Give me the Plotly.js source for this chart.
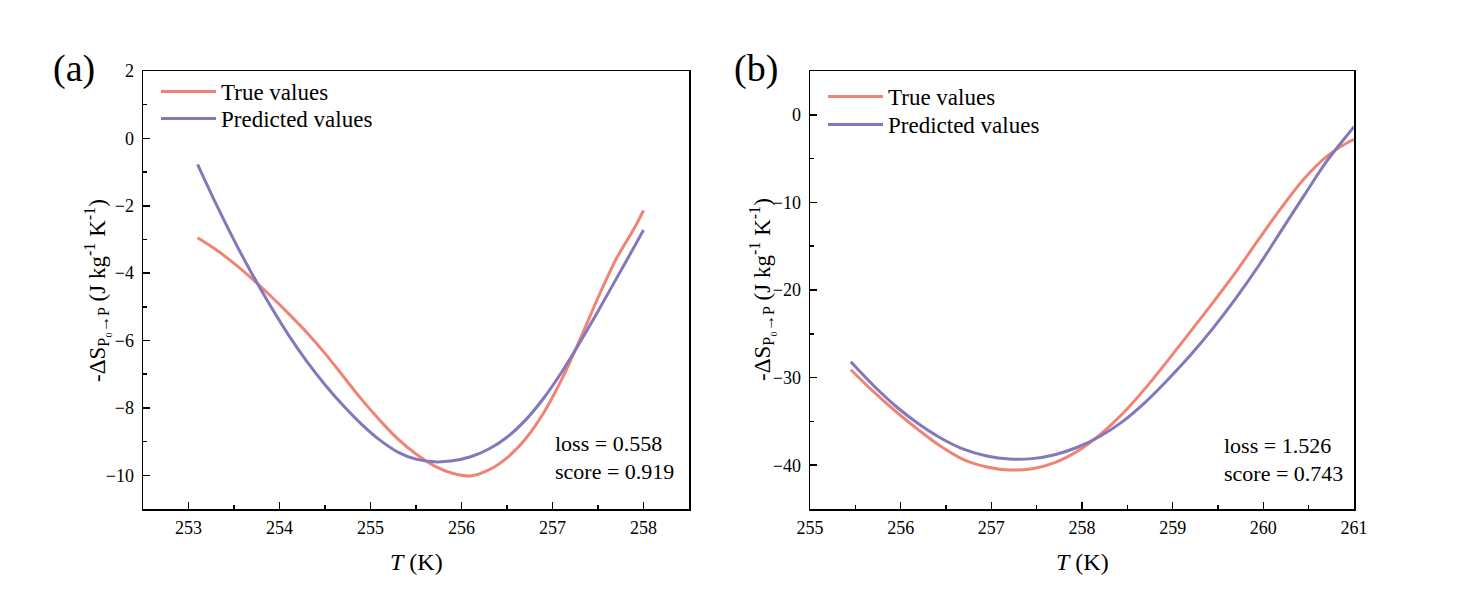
<!DOCTYPE html>
<html>
<head>
<meta charset="utf-8">
<script src="https://cdn.plot.ly/plotly-3.0.1.min.js"></script>
<style>html,body{margin:0;padding:0;background:#fff;}#chart{width:1468px;height:614px;}</style>
</head>
<body>
<div id="chart"></div>
<script>
// ---- Panel (a) data ----
const tA = [253.1,253.3,253.5,253.7,253.9,254.1,254.3,254.5,254.7,254.9,255.1,255.3,255.5,255.7,255.9,256.1,256.3,256.5,256.7,256.9,257.1,257.3,257.5,257.7,257.9,258.0];
const trueA = [-2.95,-3.30,-3.71,-4.17,-4.67,-5.20,-5.76,-6.38,-7.06,-7.74,-8.36,-8.92,-9.37,-9.72,-9.94,-10.02,-9.84,-9.48,-8.93,-8.16,-7.16,-5.98,-4.73,-3.58,-2.66,-2.14];
const predA = [-0.77,-1.93,-3.02,-4.03,-4.97,-5.84,-6.62,-7.31,-7.93,-8.48,-8.95,-9.31,-9.52,-9.60,-9.57,-9.45,-9.22,-8.87,-8.37,-7.72,-6.94,-6.06,-5.13,-4.17,-3.21,-2.72];

// ---- Panel (b) data ----
const tB = [255.45,255.7,255.95,256.2,256.45,256.7,256.95,257.2,257.45,257.7,257.95,258.2,258.45,258.7,258.95,259.2,259.45,259.7,259.95,260.2,260.45,260.7,260.95,261.0];
const trueB = [-29.1,-31.6,-33.9,-36.0,-37.9,-39.4,-40.2,-40.55,-40.4,-39.7,-38.4,-36.5,-34.1,-31.2,-28.0,-24.7,-21.35,-17.9,-14.2,-10.6,-7.3,-4.75,-3.05,-2.85];
const predB = [-28.2,-30.9,-33.3,-35.3,-36.95,-38.2,-38.95,-39.3,-39.25,-38.8,-37.95,-36.7,-35.0,-32.8,-30.2,-27.4,-24.3,-20.9,-17.2,-13.2,-9.2,-5.3,-2.0,-1.35];

const seriesNames = ["True values", "Predicted values"];
const statsA = ["loss = 0.558", "score = 0.919"];
const statsB = ["loss = 1.526", "score = 0.743"];

const cTrue = "#F08474", cPred = "#8478BC";
const FONT = "Liberation Serif, Times New Roman, serif";

function line(c) { return {color: c, width: 3, shape: "spline", smoothing: 1}; }
const traces = [
  {x: tA, y: trueA, name: seriesNames[0], mode: "lines", line: line(cTrue), xaxis: "x", yaxis: "y", legend: "legend"},
  {x: tA, y: predA, name: seriesNames[1], mode: "lines", line: line(cPred), xaxis: "x", yaxis: "y", legend: "legend3"},
  {x: tB, y: trueB, name: seriesNames[0], mode: "lines", line: line(cTrue), xaxis: "x2", yaxis: "y2", legend: "legend2"},
  {x: tB, y: predB, name: seriesNames[1], mode: "lines", line: line(cPred), xaxis: "x2", yaxis: "y2", legend: "legend4"}
];

function minor(d) { return {dtick: d, ticks: "inside", ticklen: 4, tickwidth: 1.5, tickcolor: "#000", showgrid: false}; }
function ax(extra) {
  return Object.assign({
    showline: true, linecolor: "#000", linewidth: 1.5, mirror: true,
    ticks: "inside", ticklen: 7, tickwidth: 1.5, tickcolor: "#000",
    showgrid: false, zeroline: false, automargin: false,
    tickfont: {family: FONT, size: 18, color: "#000"}
  }, extra);
}

const W = 1468, H = 614;
const px = v => v / W, py = v => 1 - v / H;

const ann = [];
function addText(x, y, text, size, opts) {
  ann.push(Object.assign({xref: "paper", yref: "paper", x: px(x), y: py(y), text: text, showarrow: false,
    font: {family: FONT, size: size, color: "#000"}, xanchor: "center", yanchor: "middle"}, opts || {}));
}
addText(74, 68, "(a)", 38);
addText(756, 68, "(b)", 38);
addText(416, 562, "<i>T</i> (K)", 24);
addText(1082, 562, "<i>T</i> (K)", 24);
const ytitle = "-ΔS<sub>P₀→P</sub> (J kg<sup>-1</sup> K<sup>-1</sup>)";
addText(96, 290, ytitle, 23, {textangle: -90});
addText(761, 290, ytitle, 23, {textangle: -90});
addText(553, 443, statsA[0], 22, {xanchor: "left"});
addText(553, 471, statsA[1], 22, {xanchor: "left"});
addText(1222, 445, statsB[0], 22, {xanchor: "left"});
addText(1222, 473, statsB[1], 22, {xanchor: "left"});

function leg(x, yTop) {
  return {bgcolor: "rgba(0,0,0,0)", borderwidth: 0, xanchor: "left", yanchor: "top",
    font: {family: FONT, size: 23, color: "#000"}, itemwidth: 55, x: px(x), y: py(yTop)};
}

const layout = {
  width: W, height: H,
  margin: {l: 0, r: 0, t: 0, b: 0},
  paper_bgcolor: "#fff", plot_bgcolor: "#fff",
  showlegend: true,
  xaxis: ax({domain: [px(143), px(689)], range: [252.5, 258.5], dtick: 1, minor: minor(0.5), anchor: "y", ticklabelstandoff: 2}),
  yaxis: ax({domain: [py(509), py(71)], range: [-11, 2], dtick: 2, minor: minor(1), anchor: "x", ticklabelstandoff: 4}),
  xaxis2: ax({domain: [px(810), px(1354)], range: [255, 261], dtick: 1, minor: minor(0.5), anchor: "y2", ticklabelstandoff: 2}),
  yaxis2: ax({domain: [py(509), py(71)], range: [-45, 5], dtick: 10, minor: minor(5), anchor: "x2", ticklabelstandoff: 4}),
  legend: leg(156, 70),
  legend3: leg(156, 97),
  legend2: leg(823, 75),
  legend4: leg(823, 103),
  annotations: ann
};

Plotly.newPlot("chart", traces, layout, {displayModeBar: false, staticPlot: true});
</script>
</body>
</html>
